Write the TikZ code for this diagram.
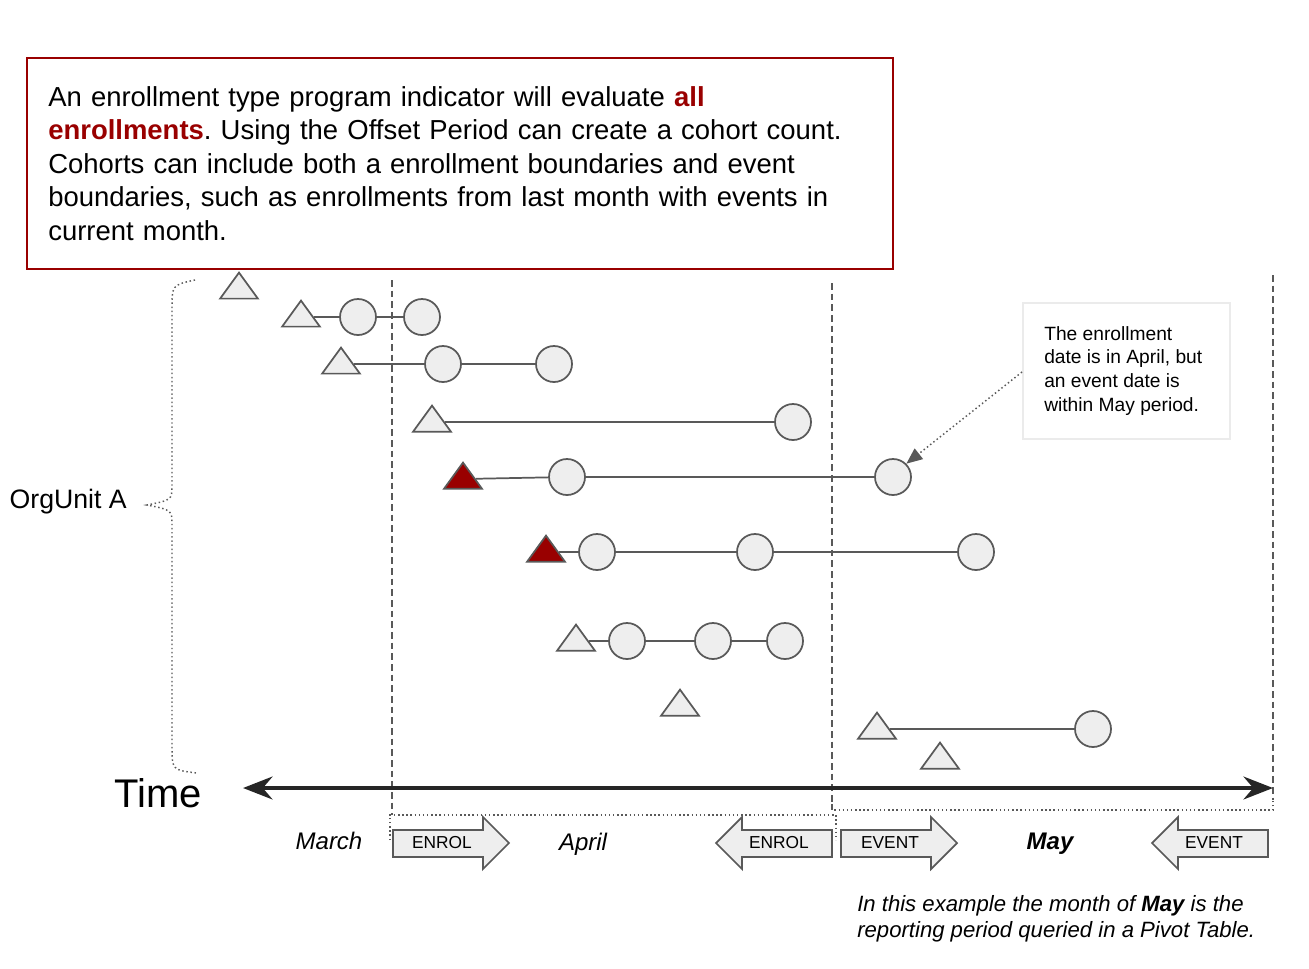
\documentclass[tikz,border=0pt]{standalone}
\usepackage{fontspec}
\setmainfont{Liberation Sans}
\usetikzlibrary{shapes.geometric,arrows.meta}
\definecolor{dred}{HTML}{990000}
\definecolor{fillg}{HTML}{EEEEEE}
\definecolor{lineg}{HTML}{595959}
\frenchspacing
\begin{document}
\begin{tikzpicture}[x=0.75pt,y=-0.75pt,
 tri/.style={draw=lineg,fill=fillg,line width=1.3pt,isosceles triangle,shape border rotate=90,isosceles triangle apex angle=72,minimum width=34*0.75pt,minimum height=26*0.75pt,inner sep=0pt},
 rtri/.style={tri,fill=dred},
 circ/.style={draw=lineg,fill=fillg,line width=1.3pt,circle,minimum size=36*0.75pt,inner sep=0pt},
 conn/.style={draw=lineg,line width=1.3pt},
 vdash/.style={draw=lineg,line width=1.3pt,dash pattern=on 5pt off 3pt},
 dotl/.style={draw=lineg,line width=1.1pt,dotted},
 barr/.style={draw=lineg,fill=fillg,line width=1.3pt},
 blab/.style={font=\fontsize{13}{15}\selectfont},
]
\useasboundingbox (0,0) rectangle (1309,968);
% dashed verticals
\draw[vdash] (392,280) -- (392,815);
\draw[vdash] (832,283) -- (832,810);
\draw[vdash] (1273,275) -- (1273,800);
% rows
\node[tri] (t1) at (239,289) {};
\node[tri] (t2) at (301,317) {};
\node[circ] (c21) at (358,317) {};
\node[circ] (c22) at (422,317) {};
\node[tri] (t3) at (341,364) {};
\node[circ] (c31) at (443,364) {};
\node[circ] (c32) at (554,364) {};
\node[tri] (t4) at (432,422) {};
\node[circ] (c41) at (793,422) {};
\node[rtri] (t5) at (463,479) {};
\node[circ] (c51) at (567,477) {};
\node[circ] (c52) at (893,477) {};
\node[rtri] (t6) at (546,552) {};
\node[circ] (c61) at (597,552) {};
\node[circ] (c62) at (755,552) {};
\node[circ] (c63) at (976,552) {};
\node[tri] (t7) at (576,641) {};
\node[circ] (c71) at (627,641) {};
\node[circ] (c72) at (713,641) {};
\node[circ] (c73) at (785,641) {};
\node[tri] (t8) at (680,706) {};
\node[tri] (t9) at (877,729) {};
\node[circ] (c91) at (1093,729) {};
\node[tri] (t10) at (940,759) {};
\draw[conn] (t2) -- (c21) -- (c22);
\draw[conn] (t3) -- (c31) -- (c32);
\draw[conn] (t4) -- (c41);
\draw[conn] (t5) -- (c51) -- (c52);
\draw[conn] (t6) -- (c61) -- (c62) -- (c63);
\draw[conn] (t7) -- (c71) -- (c72) -- (c73);
\draw[conn] (t9) -- (c91);
% time axis
\coordinate (ta) at (243,788);
\coordinate (tb) at (1273,788);
\draw[line width=3.5pt,color=black!85,{Stealth[length=22pt,width=17pt]}-{Stealth[length=22pt,width=17pt]}] (ta) -- (tb);
\node (time) at (158,793) {\fontsize{30}{34}\selectfont Time};
% brace
\draw[dotl] (195,280) .. controls (172,285) .. (172,310) -- (172,485) .. controls (172,500) .. (147,505) .. controls (172,510) .. (172,525) -- (172,745) .. controls (172,770) .. (197,773);
\node[anchor=east,inner sep=0pt] (org) at (127,502) {\fontsize{20}{23}\selectfont OrgUnit A};
% dotted brackets
\draw[dotl] (390,840) -- (390,815) -- (836,815) -- (836,840);
\draw[dotl] (832,800) -- (832,810) -- (1273,810) -- (1273,800);
% block arrows
\draw[barr] (393,830) -- (483,830) -- (483,817) -- (509,843) -- (483,869) -- (483,857) -- (393,857) -- cycle;
\node[blab] (e1) at (442,843) {ENROL};
\draw[barr] (832,830) -- (742,830) -- (742,817) -- (716,843) -- (742,869) -- (742,857) -- (832,857) -- cycle;
\node[blab] (e2) at (779,843) {ENROL};
\draw[barr] (841,830) -- (931,830) -- (931,817) -- (957,843) -- (931,869) -- (931,857) -- (841,857) -- cycle;
\node[blab] (e3) at (890,843) {EVENT};
\draw[barr] (1268,830) -- (1178,830) -- (1178,817) -- (1152,843) -- (1178,869) -- (1178,857) -- (1268,857) -- cycle;
\node[blab] (e4) at (1214,843) {EVENT};
% months
\node (mar) at (329,841) {\fontsize{18}{21}\selectfont\itshape March};
\node (apr) at (583,844) {\fontsize{18}{21}\selectfont\itshape April};
\node (may) at (1050,844) {\fontsize{18}{21}\selectfont\bfseries\itshape May};
% red box
\draw[draw=dred,line width=1.3pt] (27,58) rectangle (893,269);
\node[anchor=north west,text width=840*0.75pt,align=left,inner sep=0pt,font=\fontsize{20.6}{25.2}\selectfont] (box) at (48,86)
{An enrollment type program indicator will evaluate \textcolor{dred}{\bfseries all}\\ \textcolor{dred}{\bfseries enrollments}. Using the Offset Period can create a cohort count.\\ Cohorts can include both a enrollment boundaries and event\\ boundaries, such as enrollments from last month with events in\\ current month.};
% annotation
\draw[draw=black!8,line width=1.3pt] (1023,303) rectangle (1230,439);
\node[anchor=north west,align=left,inner sep=0pt,font=\fontsize{14.4}{17.8}\selectfont] (note) at (1044,326)
{The enrollment\\ date is in April, but\\ an event date is\\ within May period.};
\coordinate (na) at (1022,372);
\draw[dotl,-{Triangle[length=12pt,width=10pt]}] (na) -- (c52.north east);
% bottom text
\node[anchor=north west,align=left,inner sep=0pt,font=\fontsize{16.6}{19.8}\selectfont\itshape] (foot) at (857,895) {In this example the month of \textbf{May} is the\\ reporting period queried in a Pivot Table.};
\end{tikzpicture}
\end{document}
